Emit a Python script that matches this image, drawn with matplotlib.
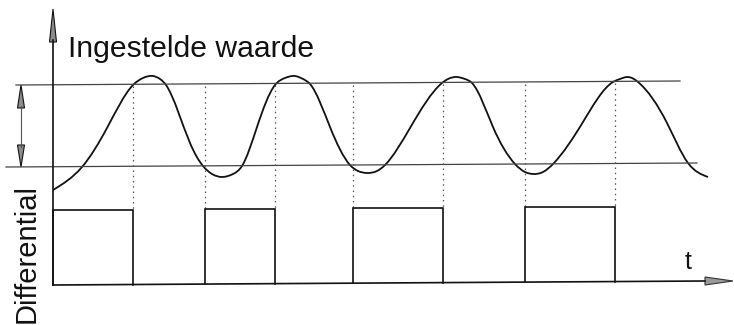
import numpy as np
import matplotlib
matplotlib.use("Agg")
import matplotlib.pyplot as plt
from matplotlib.path import Path
from matplotlib.patches import PathPatch, Polygon

# --- process value over time (x = time, y = value; screen-like units, y down) ---
curve_t = [53, 82, 107, 133, 143, 153, 160, 166, 190, 203, 212, 222, 233, 242,
           257, 275, 285, 295, 303, 310, 330, 350, 358, 367, 377, 385, 410,
           442, 448, 457, 465, 472, 493, 515, 525, 533, 543, 553, 583, 613,
           620, 627, 633, 638, 667, 688, 708]
curve_v = [190, 167, 128, 85, 78, 76, 79, 85, 143, 166, 174, 177, 174, 166,
           127, 85, 78, 76, 79, 84, 127, 165, 171, 173, 171, 165, 128,
           83, 79, 77, 79, 83, 127, 164, 172, 174, 172, 164, 122, 82,
           79, 77, 78.5, 82, 123, 163, 177]

# switching thresholds (start/end of each line)
upper_line = ([16, 680], [85, 81])
lower_line = ([6, 697], [167, 163])

# output signal: on/off switching moments and pulse level
switch_on = [53, 205, 353, 525]
switch_off = [133, 275, 443, 615]
pulse_top = [210, 209, 208, 207]
base_line = ([53, 705], [285, 281])

label_value = "Ingestelde waarde"
label_diff = "Differential"
label_time = "t"

font = ["Liberation Sans", "DejaVu Sans"]
ink = "#111111"


def smooth_path(xs, ys):
    """Natural cubic spline through the points, written as Bezier segments."""
    x = np.asarray(xs, float)
    y = np.asarray(ys, float)
    n = len(x)
    h = np.diff(x)
    d = np.diff(y) / h
    A = np.zeros((n, n))
    r = np.zeros(n)
    A[0, 0] = A[-1, -1] = 1.0
    for k in range(1, n - 1):
        A[k, k - 1] = h[k - 1]
        A[k, k] = 2 * (h[k - 1] + h[k])
        A[k, k + 1] = h[k]
        r[k] = 6 * (d[k] - d[k - 1])
    M = np.linalg.solve(A, r)
    verts = [(x[0], y[0])]
    codes = [Path.MOVETO]
    for k in range(n - 1):
        m0 = d[k] - h[k] * (2 * M[k] + M[k + 1]) / 6
        m1 = d[k] + h[k] * (M[k] + 2 * M[k + 1]) / 6
        verts += [(x[k] + h[k] / 3, y[k] + m0 * h[k] / 3),
                  (x[k + 1] - h[k] / 3, y[k + 1] - m1 * h[k] / 3),
                  (x[k + 1], y[k + 1])]
        codes += [Path.CURVE4] * 3
    return Path(verts, codes)


def base_y(x):
    (x0, x1), (y0, y1) = base_line
    return y0 + (y1 - y0) * (x - x0) / (x1 - x0)


def upper_y(x):
    (x0, x1), (y0, y1) = upper_line
    return y0 + (y1 - y0) * (x - x0) / (x1 - x0)


fig = plt.figure(figsize=(7.34, 3.25), dpi=100)
ax = fig.add_axes([0, 0, 1, 1])
ax.set_xlim(0, 734)
ax.set_ylim(325, 0)
ax.axis("off")

# threshold lines
ax.plot(*upper_line, color="#444444", lw=0.9)
ax.plot(*lower_line, color="#444444", lw=0.9)

# vertical axis with arrow
ax.plot([53, 53], [40, base_line[1][0]], color=ink, lw=1.2)
ax.add_patch(Polygon([[53, 9], [49.5, 42], [56.5, 42]], closed=True,
                     facecolor="#8c8c8c", edgecolor=ink, lw=0.8))

# time axis with arrow
ax.plot(base_line[0], base_line[1], color=ink, lw=1.2)
ax.add_patch(Polygon([[733, 281], [705, 277], [705, 285]], closed=True,
                     facecolor="#9a9a9a", edgecolor="#333333", lw=0.8))

# differential double arrow
ax.plot([21, 21], [106, 147], color="#555555", lw=0.8)
ax.add_patch(Polygon([[21, 85], [17.5, 108], [24.5, 108]], closed=True,
                     facecolor="#8c8c8c", edgecolor=ink, lw=0.8))
ax.add_patch(Polygon([[21, 167], [17.5, 145], [24.5, 145]], closed=True,
                     facecolor="#8c8c8c", edgecolor=ink, lw=0.8))

# dotted guides from the upper threshold down to the pulse level
for k, (t_on, t_off) in enumerate(zip(switch_on, switch_off)):
    for t in (t_on, t_off):
        if t == switch_on[0]:
            continue
        ax.plot([t, t], [upper_y(t) + 2, pulse_top[k]], color="#555555",
                lw=0.9, ls=(0, (1.2, 3.0)))

# output pulses
for k, (t_on, t_off) in enumerate(zip(switch_on, switch_off)):
    top = pulse_top[k]
    ax.plot([t_on, t_on, t_off, t_off],
            [base_y(t_on), top, top, base_y(t_off)],
            color=ink, lw=1.2, solid_joinstyle="miter")

# process value curve
ax.add_patch(PathPatch(smooth_path(curve_t, curve_v), facecolor="none",
                       edgecolor=ink, lw=1.3))

# labels
ax.text(68, 57, label_value, fontsize=21.7, family=font, color=ink,
        ha="left", va="baseline")
ax.text(35, 323, label_diff, fontsize=21, family=font, color=ink,
        rotation=90, rotation_mode="anchor", ha="left", va="baseline")
ax.text(685, 269, label_time, fontsize=18, family=font, color=ink,
        ha="left", va="baseline")

fig.savefig("out.png", dpi=100)
